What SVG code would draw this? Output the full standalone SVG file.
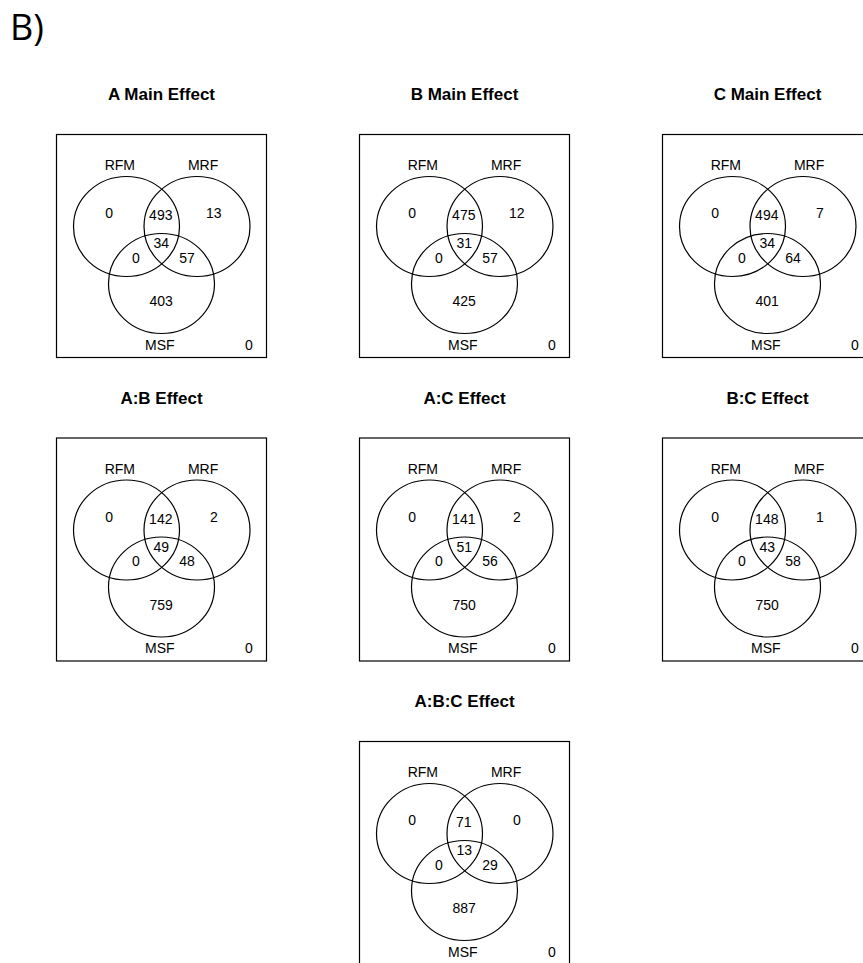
<svg xmlns="http://www.w3.org/2000/svg" xmlns:xlink="http://www.w3.org/1999/xlink" width="863" height="963" viewBox="0 0 863 963">
<style>
.bg{fill:#fff}
.box{fill:none;stroke:#000;stroke-width:1.2}
.c{fill:none;stroke:#000;stroke-width:1.2}
text{font-family:"Liberation Sans",Arial,sans-serif;fill:#000}
.t{font-size:17px;font-weight:bold;text-anchor:middle}
.l{font-size:14px;text-anchor:middle}
.n{font-size:14px;text-anchor:middle}
.hdr{font-family:"Open Sans","DejaVu Sans",sans-serif;font-size:36px;font-weight:normal}
</style>
<defs>
<g id="venn">
<rect class="box" x="0" y="0" width="210" height="223"/>
<ellipse class="c" cx="70" cy="92" rx="53" ry="50"/>
<ellipse class="c" cx="140.5" cy="92" rx="53" ry="50"/>
<ellipse class="c" cx="105" cy="149" rx="53" ry="50"/>
</g>
</defs>
<rect class="bg" x="0" y="0" width="863" height="963"/>
<text class="hdr" x="10" y="40">B)</text>

<g id="panel-a-main">
<text class="t" x="161.5" y="100">A Main Effect</text>
<g transform="translate(56.5,134.5)">
<use xlink:href="#venn"/>
<text class="l" x="63.3" y="35.7">RFM</text><text class="l" x="146.6" y="35.7">MRF</text>
<text class="n" x="52.6" y="83.7">0</text><text class="n" x="104.3" y="85.7">493</text><text class="n" x="157.3" y="83.7">13</text>
<text class="n" x="104.8" y="113.7">34</text><text class="n" x="79.3" y="128.2">0</text><text class="n" x="130.6" y="128.2">57</text>
<text class="n" x="104.6" y="171.7">403</text>
<text class="l" x="103.3" y="215">MSF</text><text class="n" x="192.3" y="215">0</text>
</g>
</g>

<g id="panel-b-main">
<text class="t" x="464.5" y="100">B Main Effect</text>
<g transform="translate(359.5,134.5)">
<use xlink:href="#venn"/>
<text class="l" x="63.3" y="35.7">RFM</text><text class="l" x="146.6" y="35.7">MRF</text>
<text class="n" x="52.6" y="83.7">0</text><text class="n" x="104.3" y="85.7">475</text><text class="n" x="157.3" y="83.7">12</text>
<text class="n" x="104.8" y="113.7">31</text><text class="n" x="79.3" y="128.2">0</text><text class="n" x="130.6" y="128.2">57</text>
<text class="n" x="104.6" y="171.7">425</text>
<text class="l" x="103.3" y="215">MSF</text><text class="n" x="192.3" y="215">0</text>
</g>
</g>

<g id="panel-c-main">
<text class="t" x="767.5" y="100">C Main Effect</text>
<g transform="translate(662.5,134.5)">
<use xlink:href="#venn"/>
<text class="l" x="63.3" y="35.7">RFM</text><text class="l" x="146.6" y="35.7">MRF</text>
<text class="n" x="52.6" y="83.7">0</text><text class="n" x="104.3" y="85.7">494</text><text class="n" x="157.3" y="83.7">7</text>
<text class="n" x="104.8" y="113.7">34</text><text class="n" x="79.3" y="128.2">0</text><text class="n" x="130.6" y="128.2">64</text>
<text class="n" x="104.6" y="171.7">401</text>
<text class="l" x="103.3" y="215">MSF</text><text class="n" x="192.3" y="215">0</text>
</g>
</g>

<g id="panel-ab">
<text class="t" x="161.5" y="403.5">A:B Effect</text>
<g transform="translate(56.5,438)">
<use xlink:href="#venn"/>
<text class="l" x="63.3" y="35.7">RFM</text><text class="l" x="146.6" y="35.7">MRF</text>
<text class="n" x="52.6" y="83.7">0</text><text class="n" x="104.3" y="85.7">142</text><text class="n" x="157.3" y="83.7">2</text>
<text class="n" x="104.8" y="113.7">49</text><text class="n" x="79.3" y="128.2">0</text><text class="n" x="130.6" y="128.2">48</text>
<text class="n" x="104.6" y="171.7">759</text>
<text class="l" x="103.3" y="215">MSF</text><text class="n" x="192.3" y="215">0</text>
</g>
</g>

<g id="panel-ac">
<text class="t" x="464.5" y="403.5">A:C Effect</text>
<g transform="translate(359.5,438)">
<use xlink:href="#venn"/>
<text class="l" x="63.3" y="35.7">RFM</text><text class="l" x="146.6" y="35.7">MRF</text>
<text class="n" x="52.6" y="83.7">0</text><text class="n" x="104.3" y="85.7">141</text><text class="n" x="157.3" y="83.7">2</text>
<text class="n" x="104.8" y="113.7">51</text><text class="n" x="79.3" y="128.2">0</text><text class="n" x="130.6" y="128.2">56</text>
<text class="n" x="104.6" y="171.7">750</text>
<text class="l" x="103.3" y="215">MSF</text><text class="n" x="192.3" y="215">0</text>
</g>
</g>

<g id="panel-bc">
<text class="t" x="767.5" y="403.5">B:C Effect</text>
<g transform="translate(662.5,438)">
<use xlink:href="#venn"/>
<text class="l" x="63.3" y="35.7">RFM</text><text class="l" x="146.6" y="35.7">MRF</text>
<text class="n" x="52.6" y="83.7">0</text><text class="n" x="104.3" y="85.7">148</text><text class="n" x="157.3" y="83.7">1</text>
<text class="n" x="104.8" y="113.7">43</text><text class="n" x="79.3" y="128.2">0</text><text class="n" x="130.6" y="128.2">58</text>
<text class="n" x="104.6" y="171.7">750</text>
<text class="l" x="103.3" y="215">MSF</text><text class="n" x="192.3" y="215">0</text>
</g>
</g>

<g id="panel-abc">
<text class="t" x="464.5" y="706.5">A:B:C Effect</text>
<g transform="translate(359.5,741.5)">
<use xlink:href="#venn"/>
<text class="l" x="63.3" y="35.7">RFM</text><text class="l" x="146.6" y="35.7">MRF</text>
<text class="n" x="52.6" y="83.7">0</text><text class="n" x="104.3" y="85.7">71</text><text class="n" x="157.3" y="83.7">0</text>
<text class="n" x="104.8" y="113.7">13</text><text class="n" x="79.3" y="128.2">0</text><text class="n" x="130.6" y="128.2">29</text>
<text class="n" x="104.6" y="171.7">887</text>
<text class="l" x="103.3" y="215">MSF</text><text class="n" x="192.3" y="215">0</text>
</g>
</g>
</svg>
